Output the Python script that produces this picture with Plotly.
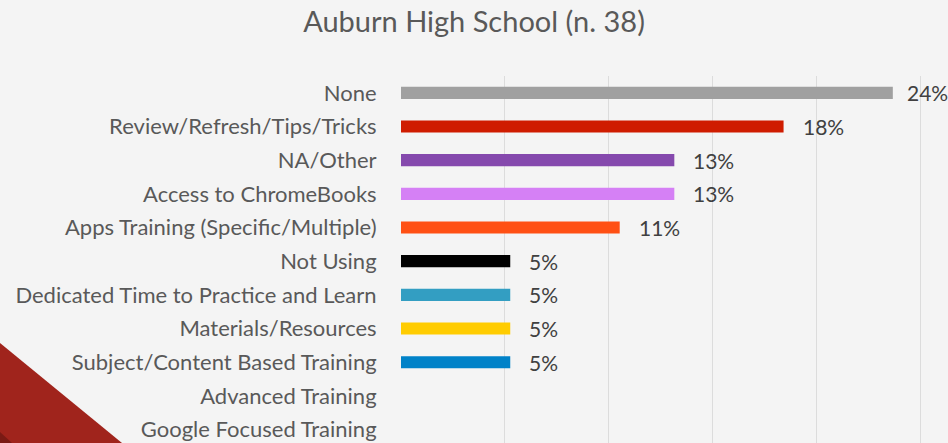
import plotly.graph_objects as go

categories = [
    "None",
    "Review/Refresh/Tips/Tricks",
    "NA/Other",
    "Access to ChromeBooks",
    "Apps Training (Specific/Multiple)",
    "Not Using",
    "Dedicated Time to Practice and Learn",
    "Materials/Resources",
    "Subject/Content Based Training",
    "Advanced Training",
    "Google Focused Training",
]
percents = [23.68, 18.42, 13.16, 13.16, 10.53, 5.26, 5.26, 5.26, 5.26, 0, 0]
colors = ["#a0a0a0", "#cf1c00", "#8549ad", "#d580f5", "#ff5014",
          "#000000", "#339ec2", "#ffcc00", "#0082c8", "#a0a0a0", "#a0a0a0"]
title_text = "Auburn High School (n. 38)"

W, H = 948, 443
ML, MR, MT, MB = 401, 7, 76, 0
FONT = "Lato"

fig = go.Figure()
fig.add_trace(go.Bar(
    y=categories, x=percents, orientation="h",
    marker=dict(color=colors, line=dict(width=0)),
    width=0.36, hoverinfo="x+y",
))

for c, v in zip(categories, percents):
    if v > 0:
        fig.add_annotation(
            x=v, y=c, text=f"{round(v)}%", showarrow=False,
            xanchor="left", yanchor="middle",
            xshift=12 if v > 20 else 17,
            font=dict(family=FONT, size=21, color="#404040"),
        )

pw = W - ML - MR
ph = H - MT - MB
def px(x):
    return (x - ML) / pw
def py(y):
    return 1 - (y - MT) / ph

fig.add_shape(type="path", xref="paper", yref="paper",
              path=f"M {px(0)} {py(343)} L {px(122)} {py(443)} L {px(0)} {py(443)} Z",
              fillcolor="#a0241c", line=dict(width=0), layer="above")
fig.add_shape(type="path", xref="paper", yref="paper",
              path=f"M {px(0)} {py(432)} L {px(12)} {py(443)} L {px(0)} {py(443)} Z",
              fillcolor="#7a1a14", line=dict(width=0), layer="above")

fig.update_layout(
    width=W, height=H,
    margin=dict(l=ML, r=MR, t=MT, b=MB, pad=0),
    paper_bgcolor="#f4f4f4", plot_bgcolor="#f4f4f4",
    showlegend=False,
    title=dict(text=title_text, x=0.5, xref="container", xanchor="center",
               y=1 - 22 / H, yref="container", yanchor="middle",
               font=dict(family=FONT, size=29, color="#595959")),
    font=dict(family=FONT, color="#595959"),
    xaxis=dict(range=[0, 26], dtick=5, tick0=0, showgrid=True,
               gridcolor="#dcdcdc", gridwidth=1.3, zeroline=False,
               showticklabels=False, showline=False, fixedrange=True),
    yaxis=dict(categoryorder="array", categoryarray=categories,
               range=[10.4, -0.5], showgrid=False, zeroline=False,
               ticks="outside", ticklen=19, tickcolor="rgba(0,0,0,0)",
               tickfont=dict(family=FONT, size=22, color="#595959"),
               fixedrange=True),
)

fig.write_html("out.html",
               post_script="document.body.style.margin='0';document.body.style.overflow='hidden';",
               config={"displayModeBar": False})
